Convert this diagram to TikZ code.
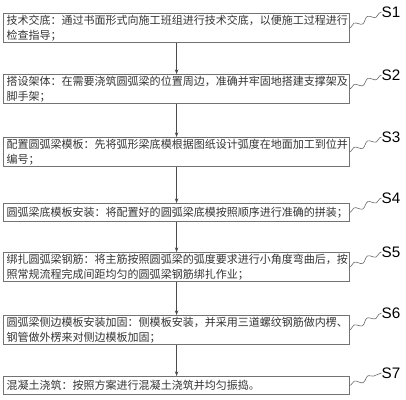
\documentclass[tikz,border=0pt]{standalone}
\usepackage{fontspec}
\setmainfont{Liberation Sans}
\newfontfamily\cjk{Noto Sans CJK SC}
\usetikzlibrary{arrows.meta,decorations.pathmorphing}
\tikzset{
  stepbox/.style={draw=black!55,line width=0.7pt,anchor=north west,text width=10.2cm,align=left,inner xsep=0.08cm,inner ysep=1pt,font=\cjk\fontsize{9.4pt}{13pt}\selectfont,text=black!80},
  twoline/.style={minimum height=0.87cm},
  oneline/.style={minimum height=0.54cm},
  steplabel/.style={inner sep=0pt,font=\fontsize{13pt}{15pt}\selectfont},
  flow/.style={draw=black!70,line width=0.5pt,-{Stealth[length=4pt,width=3pt]}},
  wave/.style={draw=black!60,line width=0.5pt,decorate,decoration={snake,amplitude=0.07cm,segment length=0.45cm,pre length=1pt,post length=1pt}}
}
\begin{document}
\begin{tikzpicture}[x=0.03cm,y=-0.03cm]
	\useasboundingbox (0,0) rectangle (406,400);
	\node[stepbox,twoline] (s1) at (3.5,13) {技术交底：通过书面形式向施工班组进行技术交底，以便施工过程进行\\检查指导；};
	\node[stepbox,twoline] (s2) at (3.5,74) {搭设架体：在需要浇筑圆弧梁的位置周边，准确并牢固地搭建支撑架及\\脚手架；};
	\node[stepbox,twoline] (s3) at (3.5,137) {配置圆弧梁模板：先将弧形梁底模根据图纸设计弧度在地面加工到位并\\编号；};
	\node[stepbox,oneline] (s4) at (3.5,203) {圆弧梁底模板安装：将配置好的圆弧梁底模按照顺序进行准确的拼装；};
	\node[stepbox,twoline] (s5) at (3.5,252) {绑扎圆弧梁钢筋：将主筋按照圆弧梁的弧度要求进行小角度弯曲后，按\\照常规流程完成间距均匀的圆弧梁钢筋绑扎作业；};
	\node[stepbox,twoline] (s6) at (3.5,315) {圆弧梁侧边模板安装加固：侧模板安装，并采用三道螺纹钢筋做内楞、\\钢管做外楞来对侧边模板加固；};
	\node[stepbox,oneline] (s7) at (3.5,376) {混凝土浇筑：按照方案进行混凝土浇筑并均匀振捣。};
	\foreach \a/\b in {1/2,2/3,3/4,4/5,5/6,6/7} \draw[flow] (s\a.south) -- (s\b.north);
	\foreach \n/\ly in {1/12,2/75,3/137,4/198,5/252,6/313,7/373} {
		\node[steplabel] (l\n) at (391,\ly) {S\n};
		\draw[wave] (s\n.east) -- (l\n.west);
	}
\end{tikzpicture}
\end{document}
